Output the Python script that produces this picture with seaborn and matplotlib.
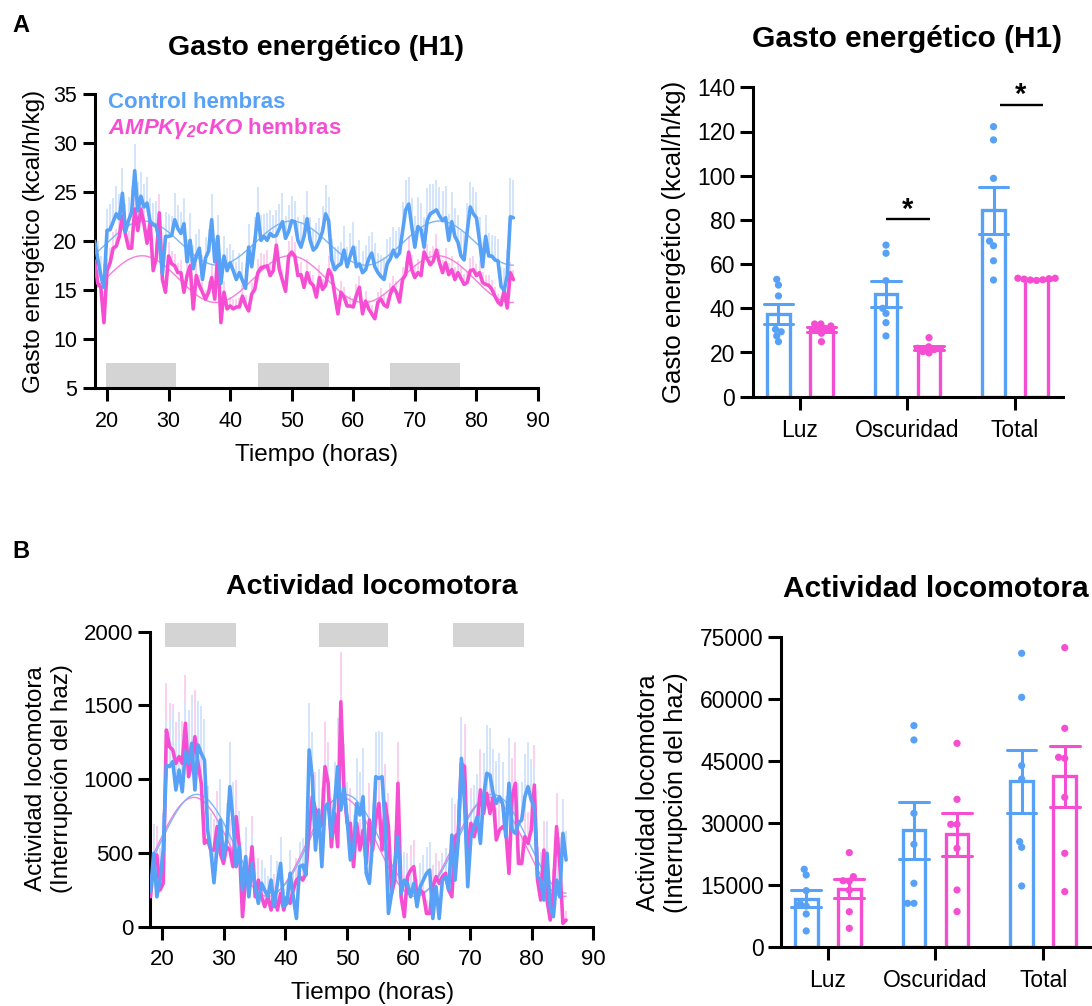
import numpy as np
import pandas as pd
import matplotlib
matplotlib.use("Agg")
import matplotlib.pyplot as plt
import seaborn as sns
from matplotlib.patches import Rectangle

# ---------------- data ----------------
grupo_ctrl = "Control hembras"
grupo_ko = "AMPKγ2cKO hembras"
color_ctrl = "#57A1F6"
color_ko = "#F54ED3"
light_ctrl = "#D3E5FB"
light_ko = "#FAD0EF"
fit_ctrl = "#7DB6F7"
fit_ko = "#F57FDD"

# Panel A: energy expenditure time course (kcal/h/kg), samples every 0.5 h from 18 h
t_A_start, t_A_step = 18.0, 0.5
ee_ts_ctrl = [
    20.0, 18.2, 16.5, 15.3, 21.1, 21.2, 22.0, 22.8, 22.3, 24.9,
    21.0, 22.1, 23.0, 27.2, 23.1, 24.6, 23.5, 23.9, 22.0, 21.7,
    21.5, 20.0, 16.7, 20.5, 20.5, 20.6, 22.2, 21.3, 20.8, 21.8,
    17.9, 20.1, 17.2, 18.5, 19.3, 16.1, 18.3, 19.0, 22.2, 17.9,
    20.5, 15.7, 18.5, 17.0, 17.8, 17.0, 16.1, 16.8, 16.0, 15.2,
    19.4, 17.4, 20.0, 22.8, 20.1, 20.5, 20.1, 20.8, 20.5, 20.6,
    21.3, 22.0, 20.3, 21.0, 22.1, 22.0, 20.1, 19.4, 20.5, 22.3,
    20.1, 19.1, 19.4, 20.1, 21.0, 22.8, 22.1, 18.1, 17.1, 17.5,
    17.7, 19.1, 17.4, 18.5, 19.4, 17.4, 17.7, 16.8, 17.1, 18.2,
    18.8, 17.4, 16.8, 16.4, 16.1, 17.7, 18.2, 19.1, 18.4, 18.8,
    21.0, 23.2, 23.8, 21.5, 19.4, 21.5, 21.2, 19.4, 22.1, 22.8,
    23.0, 23.2, 22.6, 22.1, 22.4, 20.1, 22.0, 20.5, 19.9, 18.5,
    18.1, 21.0, 23.5, 22.8, 22.4, 20.1, 17.4, 20.5, 18.5, 18.5,
    18.1, 18.0, 15.4, 15.0, 16.5, 22.5, 22.4]
ee_ts_ko = [
    18.0, 15.7, 15.3, 11.7, 17.0, 17.8, 19.3, 19.5, 20.5, 22.6,
    20.7, 19.3, 19.3, 23.3, 21.1, 23.3, 21.8, 19.8, 22.0, 17.0,
    18.3, 22.9, 16.1, 14.8, 18.5, 17.7, 17.5, 16.8, 16.8, 14.8,
    16.5, 17.5, 13.1, 16.5, 15.5, 14.8, 14.1, 14.8, 16.3, 14.1,
    18.8, 11.7, 14.8, 13.1, 13.4, 13.1, 13.3, 13.3, 14.4, 13.5,
    12.9, 14.6, 15.1, 16.8, 17.3, 17.4, 17.5, 16.5, 17.0, 19.6,
    17.1, 16.0, 14.9, 18.5, 18.9, 18.5, 16.5, 16.6, 15.3, 16.8,
    15.8, 15.5, 14.3, 16.3, 15.1, 15.5, 17.1, 16.5, 14.5, 12.6,
    14.8, 14.3, 13.4, 13.4, 13.3, 14.5, 15.3, 12.6, 13.9, 13.1,
    12.6, 12.1, 13.8, 14.1, 13.5, 13.3, 14.6, 15.3, 14.8, 13.8,
    16.1, 16.6, 18.9, 17.1, 16.3, 16.8, 16.5, 18.9, 18.2, 17.6,
    18.0, 19.1, 17.8, 16.8, 17.8, 16.6, 17.1, 16.1, 16.8, 16.2,
    15.6, 15.8, 17.0, 17.1, 16.5, 16.8, 15.8, 15.6, 15.5, 15.1,
    14.4, 13.8, 13.5, 15.0, 13.2, 16.8, 16.1]
ee_sem_ctrl = [
    1.2, 1.8, 2.0, 2.4, 2.2, 2.6, 2.4, 2.8, 2.5, 2.6,
    2.8, 2.4, 2.6, 2.7, 2.9, 2.5, 2.3, 2.7, 2.4, 2.2,
    2.6, 2.9, 2.0, 2.5, 2.3, 2.0, 2.7, 2.4, 2.2, 2.6,
    2.3, 2.8, 2.4, 2.2, 2.0, 2.5, 2.1, 2.3, 2.6, 2.4,
    2.2, 2.6, 2.0, 2.3, 1.9, 2.1, 1.8, 2.0, 1.9, 2.1,
    2.4, 2.2, 2.5, 2.7, 2.6, 2.3, 2.8, 2.4, 2.2, 2.6,
    2.5, 2.9, 2.3, 2.7, 2.5, 2.1, 2.4, 2.6, 2.2, 2.8,
    2.4, 2.2, 2.5, 2.3, 2.6, 2.9, 2.4, 2.1, 2.3, 2.0,
    2.2, 2.5, 2.0, 2.3, 2.6, 2.1, 2.4, 2.2, 2.5, 2.3,
    2.1, 2.4, 2.0, 2.2, 2.3, 2.5, 2.2, 2.4, 2.6, 2.7,
    3.0, 3.1, 2.8, 2.9, 3.2, 3.0, 2.7, 3.1, 3.3, 3.0,
    2.8, 3.1, 2.9, 3.0, 3.2, 2.7, 3.0, 2.9, 2.8, 2.6,
    2.8, 2.9, 2.5, 2.7, 2.6, 2.4, 2.5, 2.2, 2.3, 2.1,
    2.4, 2.2, 2.0, 2.3, 2.6, 4.0, 3.9]
ee_sem_ko = [
    1.0, 1.2, 1.4, 1.6, 1.3, 1.5, 1.6, 1.8, 1.7, 1.9,
    1.6, 1.8, 1.7, 2.0, 1.5, 1.8, 1.6, 1.4, 1.7, 1.3,
    1.5, 1.9, 1.2, 1.1, 1.4, 1.3, 1.2, 1.0, 1.3, 1.1,
    1.2, 1.4, 1.0, 1.2, 1.1, 1.0, 0.9, 1.1, 1.3, 1.0,
    1.4, 0.9, 1.1, 1.0, 0.9, 1.0, 0.8, 0.9, 1.1, 1.0,
    0.9, 1.1, 1.2, 1.4, 1.5, 1.3, 1.6, 1.4, 1.2, 1.7,
    1.3, 1.2, 1.1, 1.5, 1.6, 1.4, 1.2, 1.3, 1.1, 1.4,
    1.2, 1.1, 1.0, 1.3, 1.1, 1.2, 1.4, 1.3, 1.0, 0.9,
    1.1, 1.0, 0.9, 1.0, 0.9, 1.1, 1.2, 0.8, 1.0, 0.9,
    0.9, 0.8, 1.0, 1.1, 1.0, 0.9, 1.1, 1.2, 1.1, 1.0,
    1.3, 1.4, 1.6, 1.5, 1.3, 1.4, 1.2, 1.6, 1.5, 1.4,
    1.5, 1.6, 1.4, 1.3, 1.5, 1.2, 1.4, 1.3, 1.2, 1.3,
    1.1, 1.2, 1.3, 1.4, 1.2, 1.3, 1.1, 1.0, 1.1, 1.0,
    0.9, 0.8, 0.9, 1.0, 0.8, 1.1, 1.0]

# Panel B: locomotor activity time course (beam breaks), samples every 0.515 h from 18.1 h
t_B_start, t_B_step = 18.1, 0.515
la_ts_ctrl = [
    237, 497, 203, 316, 520, 1096, 1085, 1119, 927, 1062,
    915, 1186, 1107, 1243, 927, 1232, 1175, 1130, 655, 520,
    298, 542, 723, 463, 588, 949, 723, 407, 542, 249,
    475, 203, 429, 271, 158, 294, 249, 203, 316, 136,
    294, 429, 136, 158, 362, 203, 56, 407, 418, 350,
    1198, 1017, 520, 791, 407, 814, 836, 610, 836, 1085,
    791, 938, 723, 452, 520, 836, 757, 881, 362, 294,
    576, 1017, 1006, 1017, 678, 90, 226, 429, 610, 226,
    316, 294, 203, 294, 136, 271, 316, 362, 384, 56,
    271, 56, 316, 339, 249, 621, 316, 588, 1141, 836,
    271, 610, 678, 746, 565, 881, 1040, 1028, 904, 836,
    881, 836, 610, 972, 655, 633, 701, 723, 881, 949,
    859, 814, 339, 316, 181, 497, 136, 68, 316, 203,
    633, 452]
la_ts_ko = [
    203, 429, 486, 249, 294, 1333, 1220, 1198, 1107, 1153,
    1107, 1379, 1017, 1107, 1288, 1107, 972, 565, 588, 520,
    520, 678, 497, 429, 542, 520, 407, 746, 542, 68,
    339, 316, 542, 203, 316, 203, 136, 203, 113, 226,
    113, 226, 113, 203, 158, 249, 316, 339, 316, 362,
    655, 881, 791, 655, 701, 1085, 972, 542, 768, 542,
    1525, 927, 701, 701, 407, 701, 520, 655, 429, 723,
    520, 723, 836, 520, 836, 678, 226, 316, 972, 203,
    68, 339, 384, 407, 203, 249, 226, 90, 90, 271,
    339, 294, 339, 362, 249, 203, 610, 633, 1107, 1085,
    429, 701, 610, 701, 927, 768, 904, 768, 881, 588,
    655, 678, 655, 362, 881, 972, 429, 429, 610, 565,
    655, 960, 316, 181, 520, 181, 45, 249, 678, 429,
    23, 45]
la_sem_ctrl = [
    150, 200, 180, 220, 250, 300, 320, 350, 330, 360,
    380, 340, 360, 330, 350, 300, 320, 280, 300, 250,
    220, 260, 280, 240, 250, 300, 260, 220, 240, 180,
    200, 160, 190, 150, 140, 160, 150, 140, 170, 120,
    150, 180, 120, 130, 160, 140, 100, 170, 180, 200,
    320, 300, 250, 280, 230, 290, 300, 260, 280, 330,
    280, 300, 260, 220, 240, 310, 290, 330, 250, 220,
    260, 300, 320, 300, 260, 150, 180, 220, 260, 170,
    190, 170, 150, 180, 130, 160, 170, 180, 190, 110,
    150, 120, 170, 180, 150, 250, 180, 240, 280, 260,
    200, 260, 280, 290, 250, 300, 330, 320, 300, 290,
    300, 280, 250, 310, 260, 250, 270, 260, 290, 300,
    280, 260, 200, 190, 150, 220, 150, 120, 190, 160,
    230, 200]
la_sem_ko = [
    140, 180, 200, 170, 190, 320, 300, 310, 280, 300,
    290, 330, 280, 300, 320, 280, 270, 220, 230, 200,
    210, 240, 200, 190, 220, 210, 180, 250, 200, 100,
    160, 150, 210, 130, 150, 120, 100, 120, 90, 130,
    90, 120, 100, 110, 100, 130, 150, 160, 150, 170,
    230, 280, 260, 230, 240, 300, 280, 210, 250, 220,
    340, 280, 240, 240, 190, 240, 210, 230, 190, 250,
    210, 240, 270, 210, 270, 230, 140, 160, 280, 130,
    80, 160, 170, 180, 120, 140, 130, 90, 90, 150,
    160, 150, 160, 170, 140, 120, 220, 230, 290, 290,
    180, 240, 220, 240, 280, 250, 270, 250, 260, 220,
    230, 240, 230, 170, 260, 280, 190, 190, 220, 210,
    230, 270, 160, 110, 200, 110, 60, 140, 230, 180,
    50, 60]

# dark phases (h)
oscuridad_A = [(19.8, 31.2), (44.6, 56.1), (66.0, 77.4)]
oscuridad_B = [(20.5, 31.9), (45.4, 56.7), (67.2, 78.7)]
periodo_cosinor = 24.0

# Bar panels: individual animals
periodos = ["Luz", "Oscuridad", "Total"]
ee_luz_ctrl = [50.5, 53.1, 45.6, 30.5, 27.5, 29.4, 24.9]
ee_osc_ctrl = [64.9, 68.6, 52.5, 37.7, 40.0, 33.5, 27.5]
ee_tot_ctrl = [122.2, 116.2, 98.8, 70.4, 68.3, 61.5, 52.8]
ee_luz_ko = [30.9, 32.0, 32.9, 32.9, 28.7, 24.9, 30.2]
ee_osc_ko = [26.7, 22.6, 21.9, 21.6, 21.3, 20.4, 19.8]
ee_tot_ko = [53.6, 53.6, 53.4, 53.2, 52.8, 52.6, 52.9]

la_luz_ctrl = [18871, 17500, 13710, 10484, 10000, 8065, 3952]
la_osc_ctrl = [53629, 50161, 32419, 24919, 15484, 10645, 10645]
la_tot_ctrl = [71129, 60484, 43952, 40726, 25565, 24194, 14839]
la_luz_ko = [22900, 17100, 16100, 16000, 13800, 8600, 4600]
la_osc_ko = [49355, 35806, 29758, 29758, 23952, 13871, 8629]
la_tot_ko = [72500, 52984, 45968, 45726, 36290, 22742, 13468]

# significance marks (Osc, Total) for panel A bars
sig_y = [80.4, 131.9]

# ---------------- style ----------------
sns.set_theme(style="ticks")
plt.rcParams['font.family'] = ['Liberation Sans', 'DejaVu Sans']
plt.rcParams['text.color'] = 'black'
plt.rcParams['axes.labelcolor'] = 'black'
plt.rcParams['xtick.color'] = 'black'
plt.rcParams['ytick.color'] = 'black'
plt.rcParams['xtick.labelcolor'] = 'black'
plt.rcParams['ytick.labelcolor'] = 'black'
plt.rcParams['axes.edgecolor'] = 'black'
plt.rcParams['mathtext.fontset'] = 'custom'
plt.rcParams['mathtext.rm'] = 'Liberation Sans'
plt.rcParams['mathtext.it'] = 'Liberation Sans:italic'
plt.rcParams['mathtext.bf'] = 'Liberation Sans:bold'
plt.rcParams['mathtext.bfit'] = 'Liberation Sans:italic:bold'

W, H = 1092, 1006
fig = plt.figure(figsize=(W / 100, H / 100), dpi=100)
fig.patch.set_facecolor("white")


def fx(x):
    return x / W


def fy(y):
    return 1 - y / H


def box(l, t, r, b):
    return [fx(l), fy(b), (r - l) / W, (b - t) / H]


def style(ax, labelsize, xpad, ypad, length=9):
    sns.despine(ax=ax)
    for s in ["left", "bottom"]:
        ax.spines[s].set_linewidth(2.2)
        ax.spines[s].set_color("black")
    ax.tick_params(axis="both", length=length, width=2.2, colors="black",
                   labelcolor="black", labelsize=labelsize)
    ax.tick_params(axis="x", pad=xpad)
    ax.tick_params(axis="y", pad=ypad)
    ax.set_facecolor("white")
    ax.grid(False)


def cosinor(t, y, period):
    t = np.asarray(t, float)
    y = np.asarray(y, float)
    X = np.column_stack([np.ones_like(t), np.cos(2 * np.pi * t / period),
                         np.sin(2 * np.pi * t / period)])
    beta, *_ = np.linalg.lstsq(X, y, rcond=None)
    tt = np.linspace(t.min(), t.max(), 500)
    Xt = np.column_stack([np.ones_like(tt), np.cos(2 * np.pi * tt / period),
                          np.sin(2 * np.pi * tt / period)])
    return tt, Xt @ beta


pal = {grupo_ctrl: color_ctrl, grupo_ko: color_ko}


def time_panel(ax, t, ctrl, ko, sem_c, sem_k):
    n = len(t)
    df = pd.DataFrame({
        "Tiempo": np.concatenate([t, t]),
        "valor": np.concatenate([ko, ctrl]),
        "grupo": [grupo_ko] * n + [grupo_ctrl] * n,
    })
    ax.vlines(t, ko, np.asarray(ko) + np.asarray(sem_k), colors=light_ko,
              linewidth=1.4, zorder=1)
    ax.vlines(t, ctrl, np.asarray(ctrl) + np.asarray(sem_c), colors=light_ctrl,
              linewidth=1.4, zorder=1.5)
    for vals, c in ((ko, fit_ko), (ctrl, fit_ctrl)):
        tt, yy = cosinor(t, vals, periodo_cosinor)
        ax.plot(tt, yy, color=c, linewidth=1.0, zorder=2)
    sns.lineplot(data=df, x="Tiempo", y="valor", hue="grupo",
                 hue_order=[grupo_ko, grupo_ctrl], palette=pal, linewidth=2.6,
                 errorbar=None, legend=False, ax=ax, zorder=3, sort=True)
    for ln in ax.lines:
        ln.set_solid_joinstyle("round")
    ax.set_xlim(18, 90)
    ax.set_xticks(range(20, 91, 10))


# ---------------- Panel A left ----------------
tA = t_A_start + t_A_step * np.arange(len(ee_ts_ctrl))
axA1 = fig.add_axes(box(94.7, 94.3, 538.0, 388.3))
time_panel(axA1, tA, ee_ts_ctrl, ee_ts_ko, ee_sem_ctrl, ee_sem_ko)
axA1.set_ylim(5, 35)
axA1.set_yticks(range(5, 36, 5))
for s, e in oscuridad_A:
    axA1.add_patch(Rectangle((s, 5.1), e - s, 2.5, facecolor="#D4D4D4",
                             edgecolor="none", zorder=0.5))
style(axA1, 15.5, 7, 3.5)
axA1.set_xlabel("Tiempo (horas)", fontsize=17.5)
axA1.set_ylabel("Gasto energético (kcal/h/kg)", fontsize=17.5)
axA1.yaxis.set_label_coords((45 - 94.7) / 443.3, 0.5)
axA1.xaxis.set_label_coords(0.5, (388.3 - 444) / 294)

fig.text(fx(108), fy(108.5), grupo_ctrl, color=color_ctrl, fontsize=16,
         fontweight="bold", va="baseline", ha="left")
fig.text(fx(108), fy(134), r"$\mathbfit{AMPKγ_{2}cKO}$ hembras", color=color_ko,
         fontsize=16, fontweight="bold", va="baseline", ha="left")

# ---------------- Panel B left ----------------
tB = t_B_start + t_B_step * np.arange(len(la_ts_ctrl))
axB1 = fig.add_axes(box(149.9, 631.7, 593.4, 926.7))
time_panel(axB1, tB, la_ts_ctrl, la_ts_ko, la_sem_ctrl, la_sem_ko)
axB1.set_ylim(0, 2000)
axB1.set_yticks(range(0, 2001, 500))
for s, e in oscuridad_B:
    axB1.add_patch(Rectangle((s, 1898), e - s, 158, facecolor="#D4D4D4",
                             edgecolor="none", zorder=0.5, clip_on=False))
style(axB1, 16, 7, 3)
axB1.set_xlabel("Tiempo (horas)", fontsize=17.5)
axB1.set_ylabel("Actividad locomotora\n(Interrupción del haz)", fontsize=17.5,
                linespacing=1.25)
axB1.yaxis.set_label_coords((73.5 - 149.9) / 443.5, (926.7 - 779) / 295)
axB1.xaxis.set_label_coords(0.502, (926.7 - 982) / 295)

# ---------------- bar panels ----------------
SWARM_LAYOUT_SIZE = 4.3   # spacing used to arrange the dots
SWARM_DOT_SIZE = 5.2      # drawn dot size (dots may overlap, as in the original)


def long_df(ctrl_lists, ko_lists):
    rows = []
    for p, vals in zip(periodos, ctrl_lists):
        rows += [(p, grupo_ctrl, v) for v in vals]
    for p, vals in zip(periodos, ko_lists):
        rows += [(p, grupo_ko, v) for v in vals]
    return pd.DataFrame(rows, columns=["periodo", "grupo", "valor"])


def bar_panel(ax, df):
    sns.barplot(data=df, x="periodo", y="valor", hue="grupo", order=periodos,
                hue_order=[grupo_ctrl, grupo_ko], palette=pal, fill=False,
                linewidth=2.4, gap=0.475, errorbar="se", capsize=0.55,
                err_kws={"linewidth": 2.2}, legend=False, ax=ax)
    sns.swarmplot(data=df, x="periodo", y="valor", hue="grupo", order=periodos,
                  hue_order=[grupo_ctrl, grupo_ko], palette=pal, dodge=True,
                  size=SWARM_LAYOUT_SIZE, legend=False, ax=ax, zorder=3)
    ax.set_xlabel("")


dfE = long_df([ee_luz_ctrl, ee_osc_ctrl, ee_tot_ctrl],
              [ee_luz_ko, ee_osc_ko, ee_tot_ko])
axA2 = fig.add_axes(box(753.3, 87.3, 1063.3, 396.7))
bar_panel(axA2, dfE)
axA2.set_xlim(-0.434, 2.449)
axA2.set_ylim(0, 140)
axA2.set_yticks(range(0, 141, 20))
style(axA2, 16.5, 6.5, 3.5, length=9.5)
axA2.set_ylabel("Gasto energético (kcal/h/kg)", fontsize=18.5)
axA2.yaxis.set_label_coords((686 - 753.3) / 310, 0.5)
# significance
axA2.plot([1 - 0.198, 1 + 0.205], [sig_y[0]] * 2, color="black", lw=1.7,
          solid_capstyle="butt")
axA2.text(1.0, sig_y[0] + 0.5, "*", ha="center", va="baseline", fontsize=21,
          fontweight="bold")
axA2.plot([2 - 0.14, 2 + 0.258], [sig_y[1]] * 2, color="black", lw=1.7,
          solid_capstyle="butt", clip_on=False)
axA2.text(2.053, sig_y[1] + 0.9, "*", ha="center", va="baseline", fontsize=21,
          fontweight="bold", clip_on=False)

dfL = long_df([la_luz_ctrl, la_osc_ctrl, la_tot_ctrl],
              [la_luz_ko, la_osc_ko, la_tot_ko])
axB2 = fig.add_axes(box(781, 637.3, 1110, 947.3))
bar_panel(axB2, dfL)
axB2.set_xlim(-0.434, 2.62)
axB2.set_ylim(0, 75000)
axB2.set_yticks(range(0, 75001, 15000))
style(axB2, 16.5, 6, 3, length=9.5)
axB2.set_ylabel("Actividad locomotora\n(Interrupción del haz)", fontsize=18.3,
                linespacing=1.2)
axB2.yaxis.set_label_coords((688 - 781) / 329, (947.3 - 792.5) / 310)

# ---------------- titles & panel letters ----------------
fig.text(fx(316), fy(55), "Gasto energético (H1)", ha="center", va="baseline",
         fontsize=20.5, fontweight="bold")
fig.text(fx(907.5), fy(47), "Gasto energético (H1)", ha="center", va="baseline",
         fontsize=21.5, fontweight="bold")
fig.text(fx(371.6), fy(594), "Actividad locomotora", ha="center", va="baseline",
         fontsize=20.5, fontweight="bold")
fig.text(fx(935.8), fy(597), "Actividad locomotora", ha="center", va="baseline",
         fontsize=21.5, fontweight="bold")
fig.text(fx(12), fy(32), "A", ha="left", va="baseline", fontsize=17,
         fontweight="bold")
fig.text(fx(12), fy(558), "B", ha="left", va="baseline", fontsize=17,
         fontweight="bold")

# arrange swarms with compact spacing, then freeze positions and enlarge dots
fig.canvas.draw()
for ax in (axA2, axB2):
    for coll in ax.collections:
        if "draw" in vars(coll):
            del coll.draw
            coll.set_sizes([SWARM_DOT_SIZE ** 2])

fig.savefig("out.png", dpi=100, facecolor="white")
